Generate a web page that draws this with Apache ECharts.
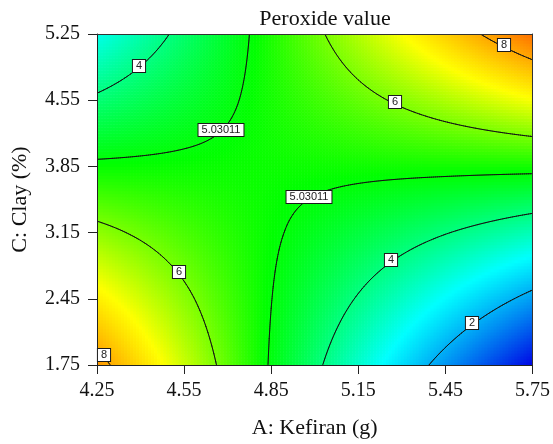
<!DOCTYPE html>
<html>
<head>
<meta charset="utf-8">
<script src="https://cdn.jsdelivr.net/npm/echarts@6/dist/echarts.min.js"></script>
<style>
  html, body { margin: 0; padding: 0; background: #fff; }
  #chart { width: 553px; height: 444px; }
</style>
</head>
<body>
<div id="chart"></div>
<script>
// Kefiran (g) levels along the horizontal axis
const kefiran = [4.25, 4.55, 4.85, 5.15, 5.45, 5.75];
// Clay (%) levels along the vertical axis
const clay = [1.75, 2.45, 3.15, 3.85, 4.55, 5.25];
// Peroxide value at each node, one row per clay level (bottom row first)
const peroxide = [
  [8.25, 6.61, 4.97, 3.33, 1.69, 0.05],
  [7.21, 6.13, 5.04, 3.95, 2.86, 1.77],
  [6.18, 5.64, 5.11, 4.57, 4.03, 3.50],
  [5.14, 5.16, 5.17, 5.19, 5.21, 5.22],
  [4.11, 4.67, 5.24, 5.81, 6.38, 6.95],
  [3.07, 4.19, 5.31, 6.43, 7.55, 8.67]
];
// Isolines that are drawn and labelled
const contourLevels = [2, 4, 5.03011, 6, 8];
// Where each isoline label sits: [level, kefiran, clay search from, clay search to]
const contourLabels = [
  [4, 4.394, 4.30, 5.25],
  [5.03011, 4.676, 3.90, 5.25],
  [6, 5.277, 3.90, 5.25],
  [8, 5.652, 4.50, 5.25],
  [5.03011, 4.979, 1.75, 3.80],
  [6, 4.531, 1.75, 3.80],
  [4, 5.261, 1.75, 3.80],
  [2, 5.541, 1.75, 3.50],
  [8, 4.273, 1.75, 2.50]
];

// Colour ramp: value -> rgb
const colorStops = [
  [0.0, [0, 0, 228]],
  [2.9, [0, 255, 255]],
  [5.1, [0, 255, 0]],
  [7.0, [255, 255, 0]],
  [10.0, [255, 0, 0]]
];
const FILL_STEP = 3;     // px per shading sub-cell
const LINE_STEP = 2;     // px per isoline sub-cell
const SERIF = '"Liberation Serif", "Times New Roman", serif';

function colorAt(v) {
  const s = colorStops;
  if (v <= s[0][0]) return 'rgb(' + s[0][1].join(',') + ')';
  for (let k = 1; k < s.length; k++) {
    if (v <= s[k][0]) {
      const t = (v - s[k - 1][0]) / (s[k][0] - s[k - 1][0]);
      const a = s[k - 1][1], b = s[k][1];
      return 'rgb(' + [0, 1, 2].map(n => Math.round(a[n] + (b[n] - a[n]) * t)).join(',') + ')';
    }
  }
  return 'rgb(' + s[s.length - 1][1].join(',') + ')';
}

// Bilinear value of the response inside the node grid
function fieldAt(a, c) {
  let i = 0, j = 0;
  while (i < kefiran.length - 2 && a > kefiran[i + 1]) i++;
  while (j < clay.length - 2 && c > clay[j + 1]) j++;
  const s = (a - kefiran[i]) / (kefiran[i + 1] - kefiran[i]);
  const t = (c - clay[j]) / (clay[j + 1] - clay[j]);
  return peroxide[j][i] * (1 - s) * (1 - t) + peroxide[j][i + 1] * s * (1 - t) +
         peroxide[j + 1][i] * (1 - s) * t + peroxide[j + 1][i + 1] * s * t;
}

// One item per grid cell: corners and the four corner values
const cells = [];
for (let j = 0; j < clay.length - 1; j++) {
  for (let i = 0; i < kefiran.length - 1; i++) {
    cells.push([kefiran[i], clay[j], kefiran[i + 1], clay[j + 1],
      peroxide[j][i], peroxide[j][i + 1], peroxide[j + 1][i], peroxide[j + 1][i + 1]]);
  }
}

function cellGeom(api, step) {
  const p0 = api.coord([api.value(0), api.value(1)]);
  const p1 = api.coord([api.value(2), api.value(3)]);
  const v = [api.value(4), api.value(5), api.value(6), api.value(7)];
  const w = p1[0] - p0[0], h = p0[1] - p1[1];
  const nx = Math.max(1, Math.round(w / step)), ny = Math.max(1, Math.round(h / step));
  return {
    p0, nx, ny, dx: w / nx, dy: h / ny,
    val: (s, t) => v[0] * (1 - s) * (1 - t) + v[1] * s * (1 - t) + v[2] * (1 - s) * t + v[3] * s * t
  };
}

function renderFill(params, api) {
  const g = cellGeom(api, FILL_STEP);
  const children = [];
  for (let b = 0; b < g.ny; b++) {
    const t = (b + 0.5) / g.ny;
    for (let a = 0; a < g.nx; a++) {
      const s = (a + 0.5) / g.nx;
      children.push({
        type: 'rect',
        shape: { x: g.p0[0] + a * g.dx, y: g.p0[1] - (b + 1) * g.dy, width: g.dx + 0.6, height: g.dy + 0.6 },
        style: { fill: colorAt(g.val(s, t)) }
      });
    }
  }
  return { type: 'group', children };
}

function renderContours(params, api) {
  const g = cellGeom(api, LINE_STEP);
  const X = a => g.p0[0] + a * g.dx;
  const Y = b => g.p0[1] - b * g.dy;
  const children = [];
  const seg = (p, q) => children.push({
    type: 'line',
    shape: { x1: p[0], y1: p[1], x2: q[0], y2: q[1] },
    style: { stroke: '#141414', lineWidth: 1, lineCap: 'round' }
  });
  for (const L of contourLevels) {
    for (let b = 0; b < g.ny; b++) {
      for (let a = 0; a < g.nx; a++) {
        const corners = [[a, b], [a + 1, b], [a + 1, b + 1], [a, b + 1]];
        const q = corners.map(c => g.val(c[0] / g.nx, c[1] / g.ny));
        const pts = [];
        for (let e = 0; e < 4; e++) {
          const v1 = q[e], v2 = q[(e + 1) % 4];
          if ((v1 < L) !== (v2 < L)) {
            const t = (L - v1) / (v2 - v1);
            const c1 = corners[e], c2 = corners[(e + 1) % 4];
            pts.push([X(c1[0] + (c2[0] - c1[0]) * t), Y(c1[1] + (c2[1] - c1[1]) * t)]);
          }
        }
        if (pts.length === 2) {
          seg(pts[0], pts[1]);
        } else if (pts.length === 4) {
          const mid = (q[0] + q[1] + q[2] + q[3]) / 4;
          if ((mid < L) === (q[0] < L)) { seg(pts[0], pts[1]); seg(pts[2], pts[3]); }
          else { seg(pts[0], pts[3]); seg(pts[1], pts[2]); }
        }
      }
    }
  }
  return { type: 'group', children };
}

function renderLabel(params, api) {
  const level = api.value(0), a = api.value(1);
  let lo = api.value(2), hi = api.value(3);
  const f = c => fieldAt(a, c) - level;
  let flo = f(lo);
  for (let k = 0; k < 40; k++) {
    const m = (lo + hi) / 2, fm = f(m);
    if ((fm < 0) === (flo < 0)) { lo = m; flo = fm; } else { hi = m; }
  }
  const p = api.coord([a, (lo + hi) / 2]);
  return {
    type: 'text',
    x: Math.round(p[0]),
    y: Math.round(p[1]) - 2,
    style: {
      text: String(level),
      align: 'center',
      verticalAlign: 'middle',
      fill: '#222',
      font: '11px "Liberation Sans", Arial, sans-serif',
      lineHeight: 11,
      backgroundColor: '#fff',
      borderColor: '#1a1a1a',
      borderWidth: 1,
      padding: [1, 3, 0, 3]
    }
  };
}

const chart = echarts.init(document.getElementById('chart'), null, { renderer: 'canvas' });

const axisText = { fontFamily: SERIF, fontSize: 20, color: '#111' };

chart.setOption({
  animation: false,
  backgroundColor: '#fff',
  title: {
    text: 'Peroxide value',
    left: 320,
    top: 3,
    textAlign: 'center',
    textStyle: { fontFamily: SERIF, fontSize: 22, fontWeight: 'normal', color: '#111' }
  },
  grid: { left: 97, right: 16, top: 34, bottom: 74 },
  xAxis: [{
    type: 'value',
    min: kefiran[0],
    max: kefiran[kefiran.length - 1],
    position: 'bottom',
    z: 5,
    name: 'A: Kefiran (g)',
    nameLocation: 'middle',
    nameGap: 52,
    nameTextStyle: { fontFamily: SERIF, fontSize: 22, color: '#111' },
    axisLine: { show: true, onZero: false, lineStyle: { color: '#222', width: 1 } },
    axisTick: { show: true, inside: false, length: 9, customValues: kefiran, lineStyle: { color: '#222' } },
    axisLabel: { customValues: kefiran, formatter: v => v.toFixed(2), margin: 16, ...axisText },
    splitLine: { show: false }
  }, {
    type: 'value',
    min: kefiran[0],
    max: kefiran[kefiran.length - 1],
    position: 'top',
    z: 5,
    axisLine: { show: true, onZero: false, lineStyle: { color: '#333', width: 1 } },
    axisTick: { show: false },
    axisLabel: { show: false },
    splitLine: { show: false }
  }],
  yAxis: [{
    type: 'value',
    min: clay[0],
    max: clay[clay.length - 1],
    position: 'left',
    z: 5,
    name: 'C: Clay (%)',
    nameLocation: 'middle',
    nameGap: 66,
    nameTextStyle: { fontFamily: SERIF, fontSize: 22, color: '#111' },
    axisLine: { show: true, onZero: false, lineStyle: { color: '#222', width: 1 } },
    axisTick: { show: true, inside: false, length: 9, customValues: clay, lineStyle: { color: '#222' } },
    axisLabel: { customValues: clay, formatter: v => v.toFixed(2), margin: 17, ...axisText },
    splitLine: { show: false }
  }, {
    type: 'value',
    min: clay[0],
    max: clay[clay.length - 1],
    position: 'right',
    z: 5,
    axisLine: { show: true, onZero: false, lineStyle: { color: '#333', width: 1 } },
    axisTick: { show: false },
    axisLabel: { show: false },
    splitLine: { show: false }
  }],
  series: [{
    name: 'Peroxide value',
    type: 'custom',
    data: cells,
    encode: { x: [0, 2], y: [1, 3] },
    renderItem: renderFill,
    clip: true,
    silent: true,
    z: 1
  }, {
    name: 'Isolines',
    type: 'custom',
    data: cells,
    encode: { x: [0, 2], y: [1, 3] },
    renderItem: renderContours,
    clip: true,
    silent: true,
    z: 2
  }, {
    name: 'Isoline labels',
    type: 'custom',
    data: contourLabels,
    encode: { x: 1, y: 2 },
    renderItem: renderLabel,
    clip: false,
    silent: true,
    z: 10
  }]
});
</script>
</body>
</html>
